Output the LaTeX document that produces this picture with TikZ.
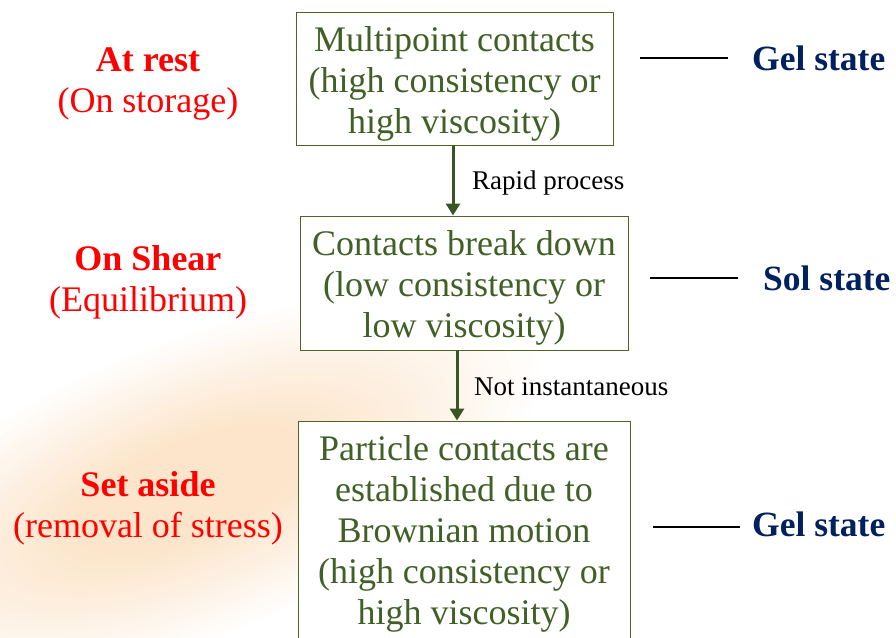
\documentclass[tikz,border=0pt]{standalone}
\usepackage{fontspec}
\setmainfont{Liberation Serif}
\usetikzlibrary{arrows.meta}
\definecolor{boxgreen}{RGB}{79,98,40}
\definecolor{txtgreen}{RGB}{64,96,38}
\definecolor{arrgreen}{RGB}{55,86,35}
\definecolor{navy}{RGB}{0,32,96}
\definecolor{peach}{RGB}{252,229,203}
\tikzset{
  box/.style={draw=boxgreen, line width=1pt, fill=white, inner sep=0pt},
  boxtext/.style={text=txtgreen, align=center, font=\fontsize{36}{41}\selectfont, inner sep=0pt},
  arr/.style={draw=arrgreen, line width=3pt, -{Triangle[width=14pt,length=12pt]}},
  arrlabel/.style={anchor=west, font=\fontsize{27}{30}\selectfont, text=black, inner sep=0pt},
  phase/.style={text=red, align=center, font=\fontsize{36}{41}\selectfont, inner sep=0pt},
  state/.style={anchor=west, text=navy, font=\bfseries\fontsize{35.5}{41}\selectfont, inner sep=0pt},
  joinline/.style={draw=black, line width=2.5pt}
}
\begin{document}
\begin{tikzpicture}[x=1pt,y=-1pt]
\useasboundingbox (0,0) rectangle (896,637);
\begin{scope}
\clip (0,0) rectangle (896,637);
\coordinate (glowc) at (190,490);
\foreach \i in {0,...,40}{
  \pgfmathsetmacro\t{1-\i/40}
  \pgfmathsetmacro\p{min(100,150*(1-\t))}
  \fill[peach!\p!white, rotate around={22:(glowc)}] (glowc) ellipse ({380*\t+1} and {150*\t+0.5});
}
\end{scope}

\node[box, minimum width=317pt, minimum height=133pt] (b1) at (454.5,78.5) {};
\node[boxtext] (t1) at ([yshift=-5pt]b1.center)
  {Multipoint contacts\\(high consistency or\\high viscosity)};
\node[box, minimum width=328pt, minimum height=134pt] (b2) at (464,283) {};
\node[boxtext] (t2) at ([yshift=-5pt]b2.center)
  {Contacts break down\\(low consistency or\\low viscosity)};
\begin{scope}
\clip (0,0) rectangle (896,637);
\node[box, minimum width=332pt, minimum height=218pt] (b3) at (464,530) {};
\end{scope}
\node[boxtext] (t3) at ([yshift=-4pt]b3.center)
  {Particle contacts are\\established due to\\Brownian motion\\(high consistency or\\high viscosity)};

\coordinate (a1s) at ([xshift=-1.5pt]b1.south);
\coordinate (a2s) at ([xshift=-7pt]b2.south);
\draw[arr] (a1s) -- (a1s |- b2.north);
\draw[arr] (a2s) -- (a2s |- b3.north);
\node[arrlabel] (l1) at (472,183) {Rapid process};
\node[arrlabel] (l2) at (474,387) {Not instantaneous};

\node[phase] (p1) at (148,84) {\textbf{At rest}\\(On storage)};
\node[phase] (p2) at (148,282) {\textbf{On Shear}\\(Equilibrium)};
\node[phase] (p3) at (148,508) {\textbf{Set aside}\\(removal of stress)};

\node[state] (s1) at (752,58) {Gel state};
\node[state] (s2) at (763,278) {Sol state};
\node[state] (s3) at (752,524) {Gel state};

\draw[joinline] ([xshift=-24pt]s1.west |- 0,58) -- ++(-88,0);
\draw[joinline] ([xshift=-25pt]s2.west |- 0,278) -- ++(-88,0);
\draw[joinline] ([xshift=-12pt]s3.west |- 0,527) -- ++(-87,0);
\end{tikzpicture}
\end{document}
